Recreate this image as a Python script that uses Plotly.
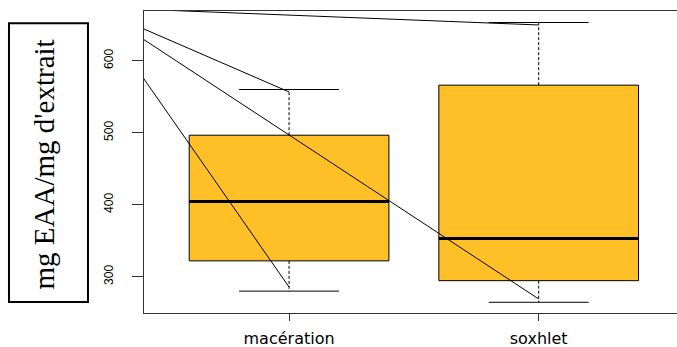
import plotly.graph_objects as go

# Extraction methods and their box statistics (mg EAA / mg d'extrait)
methods = ["macération", "soxhlet"]
lower_whisker = [280.0, 264.5]
q1 = [322.0, 294.5]
median = [404.5, 353.0]
q3 = [496.5, 566.0]
upper_whisker = [560.0, 653.0]

# Straight segments running from the origin (x = 0) to a whisker end
seg_start = [677.0, 707.0, 724.6, 782.9]
seg_target_pos = [2, 1, 2, 1]
seg_end = [649.6, 556.6, 269.1, 285.7]

y_ticks = [300, 400, 500, 600]

BOX_W = 0.8
CAP_W = 0.4
FILL = "#FEC026"

fig = go.Figure()

for i, name in enumerate(methods):
    pos = i + 1
    xl, xr = pos - BOX_W / 2, pos + BOX_W / 2
    # box body
    fig.add_trace(go.Scatter(
        x=[xl, xr, xr, xl, xl], y=[q1[i], q1[i], q3[i], q3[i], q1[i]],
        mode="lines", fill="toself", fillcolor=FILL,
        line=dict(color="black", width=1), hoverinfo="skip", showlegend=False))
    # median
    fig.add_trace(go.Scatter(
        x=[xl, xr], y=[median[i], median[i]], mode="lines",
        line=dict(color="black", width=3), hoverinfo="skip", showlegend=False))
    # dashed whiskers
    for a, b in ((q3[i], upper_whisker[i]), (q1[i], lower_whisker[i])):
        fig.add_trace(go.Scatter(
            x=[pos, pos], y=[a, b], mode="lines",
            line=dict(color="black", width=1, dash="3px,2px"),
            hoverinfo="skip", showlegend=False))
    # whisker caps
    for v in (upper_whisker[i], lower_whisker[i]):
        fig.add_trace(go.Scatter(
            x=[pos - CAP_W / 2, pos + CAP_W / 2], y=[v, v], mode="lines",
            line=dict(color="black", width=1), hoverinfo="skip", showlegend=False))

for s, p, e in zip(seg_start, seg_target_pos, seg_end):
    fig.add_trace(go.Scatter(
        x=[0, p], y=[s, e], mode="lines",
        line=dict(color="black", width=1), hoverinfo="skip", showlegend=False))

fig.update_layout(
    width=677, height=347,
    margin=dict(l=144, r=0, t=11, b=34),
    plot_bgcolor="white", paper_bgcolor="white",
    xaxis=dict(
        range=[0.419, 2.554], tickvals=[1, 2], ticktext=methods,
        showgrid=False, zeroline=False, showline=True, mirror=True,
        linecolor="#333", linewidth=1, ticks="outside", ticklen=7,
        tickcolor="#333", ticklabelstandoff=4,
        tickfont=dict(family="DejaVu Sans", size=16, color="black")),
    yaxis=dict(
        range=[249.6, 669.0], tickvals=y_ticks,
        showgrid=False, zeroline=False, showline=True,
        linecolor="#333", linewidth=1, ticks="outside", ticklen=11,
        tickcolor="#333", tickangle=-90, ticklabelstandoff=14,
        tickfont=dict(family="Liberation Sans", size=12, color="black")),
    shapes=[dict(type="rect", xref="paper", yref="paper",
                 x0=-0.2533, x1=-0.1051, y0=0.0364, y1=0.9593,
                 line=dict(color="black", width=2))],
    annotations=[dict(text="mg EAA/mg d'extrait", xref="paper", yref="paper",
                      x=-0.187, y=0.493, xanchor="center", yanchor="middle",
                      showarrow=False, textangle=-90,
                      font=dict(family="Liberation Serif", size=29, color="black"))],
)

fig.write_html("out.html")
